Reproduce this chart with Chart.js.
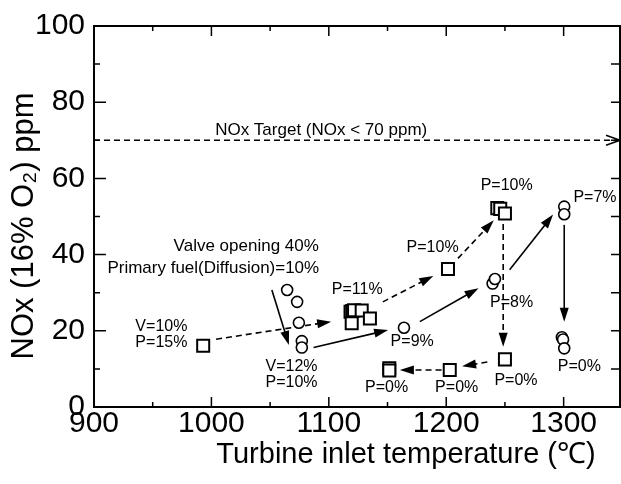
<!DOCTYPE html>
<html>
<head>
<meta charset="UTF-8">
<title>NOx vs Turbine inlet temperature</title>
<script src="https://cdn.jsdelivr.net/npm/chart.js"></script>
<style>
  html, body { margin: 0; padding: 0; background: #fff; overflow: hidden; }
  #wrap { position: relative; width: 621px; height: 484px; }
  #myChart { display: block; }
</style>
</head>
<body>
<div id="wrap"><canvas id="myChart"></canvas></div>
<script>
// open squares
var squareX = [993, 1118.5, 1120, 1121.5, 1128, 1119.5, 1135, 1201.5, 1243.5, 1246, 1250, 1250, 1203, 1151.5, 1151.5];
var squareY = [16.1, 25.0, 25.2, 25.4, 25.3, 22.0, 23.2, 36.2, 52.2, 52.0, 50.8, 12.5, 9.7, 10.2, 9.6];
// open circles
var circleX = [1064.5, 1073, 1074.5, 1077, 1077, 1164, 1239.5, 1241.5, 1300.5, 1300.5, 1298.5, 1299.5, 1300.5];
var circleY = [30.7, 27.6, 22.1, 17.3, 15.6, 20.8, 32.4, 33.6, 52.6, 50.6, 18.3, 17.7, 15.4];
// NOx target line
var targetX = [900, 1348];
var targetY = [70, 70];
// arrows: [x1, y1, x2, y2] in data units
var dashedArrows = [
  [1004, 17.8, 1102, 22.4],
  [1146, 27.6, 1189, 34.4],
  [1210, 39.0, 1240.5, 49.0],
  [1248.5, 48.0, 1248.5, 15.8],
  [1235, 11.8, 1213.5, 10.7],
  [1196, 9.7, 1160.5, 9.7]
];
var solidArrows = [
  [1051.5, 30.7, 1066, 16.3],
  [1087, 15.6, 1150.5, 20.2],
  [1177.5, 22.4, 1227.5, 31.2],
  [1254, 36.0, 1291, 50.5],
  [1300.5, 47.8, 1300.5, 22.4]
];
// tick values
var xTicks = [900, 1000, 1100, 1200, 1300];
var xMinor = [950, 1050, 1150, 1250, 1350];
var yTicks = [0, 20, 40, 60, 80, 100];
var yMinor = [10, 30, 50, 70, 90];
// text notes
var notes = [
  { text: 'NOx Target (NOx < 70 ppm)', x: 1093.5, y: 72.5, size: 17, align: 'center' },
  { text: 'Valve opening 40%', x: 1091.5, y: 42.1, size: 17, align: 'right' },
  { text: 'Primary fuel(Diffusion)=10%', x: 1091.8, y: 36.3, size: 17, align: 'right' },
  { text: 'V=10%', x: 957.4, y: 21.0, size: 16, align: 'center' },
  { text: 'P=15%', x: 957.4, y: 16.8, size: 16, align: 'center' },
  { text: 'V=12%', x: 1068.2, y: 10.5, size: 16, align: 'center' },
  { text: 'P=10%', x: 1068.2, y: 6.3, size: 16, align: 'center' },
  { text: 'P=11%', x: 1124.2, y: 30.8, size: 16, align: 'center' },
  { text: 'P=9%', x: 1171, y: 17.1, size: 16, align: 'center' },
  { text: 'P=0%', x: 1149.2, y: 5.0, size: 16, align: 'center' },
  { text: 'P=0%', x: 1208.9, y: 5.0, size: 16, align: 'center' },
  { text: 'P=10%', x: 1188.4, y: 41.9, size: 16, align: 'center' },
  { text: 'P=10%', x: 1251.5, y: 58.1, size: 16, align: 'center' },
  { text: 'P=7%', x: 1326.7, y: 54.9, size: 16, align: 'center' },
  { text: 'P=8%', x: 1255.7, y: 27.5, size: 16, align: 'center' },
  { text: 'P=0%', x: 1259.4, y: 6.8, size: 16, align: 'center' },
  { text: 'P=0%', x: 1313.4, y: 10.5, size: 16, align: 'center' }
];

var FONT = "'Liberation Sans', Arial, Helvetica, sans-serif";
Chart.defaults.font.family = FONT;
Chart.defaults.color = '#000';

function pts(xs, ys) {
  return xs.map(function (x, i) { return { x: x, y: ys[i] }; });
}

function head(ctx, x1, y1, x2, y2, len, half, open) {
  var a = Math.atan2(y2 - y1, x2 - x1);
  var bx = x2 - len * Math.cos(a), by = y2 - len * Math.sin(a);
  var px = -Math.sin(a) * half, py = Math.cos(a) * half;
  ctx.beginPath();
  if (open) {
    ctx.moveTo(bx + px, by + py); ctx.lineTo(x2, y2); ctx.lineTo(bx - px, by - py);
    ctx.stroke();
  } else {
    ctx.moveTo(x2, y2); ctx.lineTo(bx + px, by + py); ctx.lineTo(bx - px, by - py);
    ctx.closePath(); ctx.fill();
  }
}

function drawArrow(ctx, xs, ys, r, dashed) {
  var x1 = xs.getPixelForValue(r[0]), y1 = ys.getPixelForValue(r[1]);
  var x2 = xs.getPixelForValue(r[2]), y2 = ys.getPixelForValue(r[3]);
  var a = Math.atan2(y2 - y1, x2 - x1), len = 14;
  ctx.setLineDash(dashed ? [6, 4] : []);
  ctx.beginPath();
  ctx.moveTo(x1, y1);
  ctx.lineTo(x2 - len * 0.8 * Math.cos(a), y2 - len * 0.8 * Math.sin(a));
  ctx.stroke();
  ctx.setLineDash([]);
  head(ctx, x1, y1, x2, y2, len, 4.5, false);
}

var framePlugin = {
  id: 'frame',
  beforeDatasetsDraw: function (chart) {
    var ctx = chart.ctx, a = chart.chartArea;
    var xs = chart.scales.x, ys = chart.scales.y;
    ctx.save();
    ctx.strokeStyle = '#000';
    ctx.fillStyle = '#000';
    ctx.lineWidth = 2;
    ctx.strokeRect(a.left, a.top, a.right - a.left, a.bottom - a.top);
    ctx.lineWidth = 1.5;
    ctx.beginPath();
    xTicks.forEach(function (v) {
      var p = xs.getPixelForValue(v);
      ctx.moveTo(p, a.bottom); ctx.lineTo(p, a.bottom - 10);
      ctx.moveTo(p, a.top); ctx.lineTo(p, a.top + 10);
    });
    xMinor.forEach(function (v) {
      var p = xs.getPixelForValue(v);
      if (p > a.right) return;
      ctx.moveTo(p, a.bottom); ctx.lineTo(p, a.bottom - 5);
      ctx.moveTo(p, a.top); ctx.lineTo(p, a.top + 5);
    });
    yTicks.forEach(function (v) {
      var p = ys.getPixelForValue(v);
      ctx.moveTo(a.left, p); ctx.lineTo(a.left + 12, p);
      ctx.moveTo(a.right, p); ctx.lineTo(a.right - 9, p);
    });
    yMinor.forEach(function (v) {
      var p = ys.getPixelForValue(v);
      ctx.moveTo(a.left, p); ctx.lineTo(a.left + 6, p);
      ctx.moveTo(a.right, p); ctx.lineTo(a.right - 9, p);
    });
    ctx.stroke();

    // target arrowhead (open)
    ctx.lineWidth = 1.5;
    head(ctx, xs.getPixelForValue(targetX[0]), ys.getPixelForValue(targetY[0]),
      xs.getPixelForValue(targetX[1]), ys.getPixelForValue(targetY[1]), 14, 5, true);

    ctx.lineWidth = 1.6;
    dashedArrows.forEach(function (r) { drawArrow(ctx, xs, ys, r, true); });
    solidArrows.forEach(function (r) { drawArrow(ctx, xs, ys, r, false); });
    ctx.restore();
  },
  afterDatasetsDraw: function (chart) {
    var ctx = chart.ctx;
    var xs = chart.scales.x, ys = chart.scales.y;
    ctx.save();
    ctx.fillStyle = '#000';
    ctx.textBaseline = 'middle';
    notes.forEach(function (n) {
      ctx.font = n.size + 'px ' + FONT;
      ctx.textAlign = n.align;
      ctx.fillText(n.text, xs.getPixelForValue(n.x), ys.getPixelForValue(n.y));
    });
    // axis titles
    ctx.textAlign = 'center';
    ctx.font = '29px ' + FONT;
    ctx.fillText('Turbine inlet temperature (\u2103)', 406, 455);
    ctx.translate(24.5, 226);
    ctx.rotate(-Math.PI / 2);
    ctx.font = '31px ' + FONT;
    ctx.fillText('NOx (16% O\u2082) ppm', 0, 0);
    ctx.restore();
  }
};

var ctx = document.getElementById('myChart').getContext('2d');
var chart = new Chart(ctx, {
  type: 'scatter',
  data: {
    datasets: [
      {
        label: 'NOx Target',
        data: pts(targetX, targetY),
        showLine: true,
        borderColor: '#000',
        borderWidth: 1.5,
        borderDash: [6, 4],
        pointRadius: 0
      },
      {
        label: 'Square',
        data: pts(squareX, squareY),
        pointStyle: 'rect',
        pointRadius: 8.5,
        pointBorderWidth: 2,
        borderColor: '#000',
        backgroundColor: '#fff'
      },
      {
        label: 'Circle',
        data: pts(circleX, circleY),
        pointStyle: 'circle',
        pointRadius: 5.5,
        pointBorderWidth: 1.6,
        borderColor: '#000',
        backgroundColor: '#fff'
      }
    ]
  },
  options: {
    responsive: true,
    maintainAspectRatio: false,
    animation: false,
    events: [],
    layout: { autoPadding: false, padding: { top: 26, right: 1, left: 0, bottom: 0 } },
    plugins: {
      legend: { display: false },
      tooltip: { enabled: false }
    },
    scales: {
      x: {
        type: 'linear',
        min: 900,
        max: 1348,
        grid: { display: false, drawTicks: false },
        border: { display: false },
        afterBuildTicks: function (s) { s.ticks = xTicks.map(function (v) { return { value: v }; }); },
        afterFit: function (s) {
          s.height = 77;
          s.paddingLeft = 0; s.paddingRight = 0;
        },
        ticks: {
          font: { size: 30, lineHeight: 1.1 }, padding: 0, maxRotation: 0, autoSkip: false,
          callback: function (v) { return String(v); }
        }
      },
      y: {
        type: 'linear',
        min: 0,
        max: 100,
        grid: { display: false, drawTicks: false },
        border: { display: false },
        afterBuildTicks: function (s) { s.ticks = yTicks.map(function (v) { return { value: v }; }); },
        afterFit: function (s) {
          s.width = 94;
          s.paddingTop = 0; s.paddingBottom = 0;
        },
        ticks: { font: { size: 30 }, padding: 9, callback: function (v) { return String(v); } }
      }
    }
  },
  plugins: [framePlugin]
});
</script>
</body>
</html>
